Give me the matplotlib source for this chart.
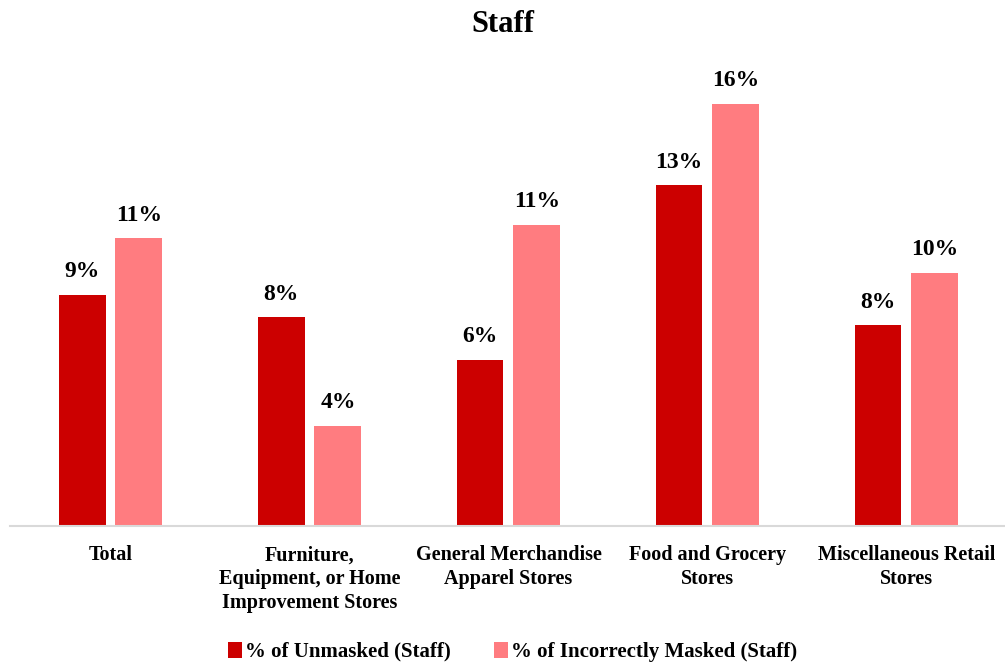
import matplotlib
matplotlib.use("Agg")
import matplotlib.pyplot as plt
import numpy as np

categories = ["Total", "Furniture,\nEquipment, or Home\nImprovement Stores",
              "General Merchandise\nApparel Stores", "Food and Grocery\nStores",
              "Miscellaneous Retail\nStores"]
unmasked = [8.75, 7.9, 6.3, 12.9, 7.6]
incorrect = [10.9, 3.8, 11.4, 16.0, 9.6]
series_names = ["% of Unmasked (Staff)", "% of Incorrectly Masked (Staff)"]
colors = ["#CC0000", "#FF7C80"]

plt.rcParams['font.family'] = ['Liberation Serif', 'DejaVu Serif']
plt.rcParams['font.weight'] = 'bold'

fig = plt.figure(figsize=(10.05, 6.62), dpi=100)
ax = fig.add_axes([0.00995, 0.2054, 0.99, 0.718])

x = np.arange(len(categories))
w = 0.236
off = 0.143
b1 = ax.bar(x - off, unmasked, w, color=colors[0], label=series_names[0])
b2 = ax.bar(x + off, incorrect, w, color=colors[1], label=series_names[1])
for bars, vals in ((b1, unmasked), (b2, incorrect)):
    for r, v in zip(bars, vals):
        ax.annotate(f"{v:.0f}%", (r.get_x() + r.get_width() / 2, v),
                    xytext=(0, 9), textcoords="offset points",
                    ha="center", va="bottom", fontsize=17, fontweight="bold")

ax.set_xlim(-0.505, 4.495)
ax.set_ylim(0, 18)
for s in ["top", "right", "left"]:
    ax.spines[s].set_visible(False)
ax.spines["bottom"].set_color("#D9D9D9")
ax.spines["bottom"].set_linewidth(1.5)
ax.set_yticks([])
ax.set_xticks(x)
ax.set_xticklabels(categories, fontsize=14.5, fontweight="bold", linespacing=1.24)
ax.tick_params(axis="x", length=0, pad=14)

fig.suptitle("Staff", y=0.985, fontsize=22, fontweight="bold")
fig.legend(loc="lower center", bbox_to_anchor=(0.51, -0.028), ncol=2, frameon=False,
           handlelength=0.65, handleheight=0.8, handletextpad=0.15,
           columnspacing=2.1, prop={'weight': 'bold', 'size': 15})

fig.savefig("out.png", dpi=100)
